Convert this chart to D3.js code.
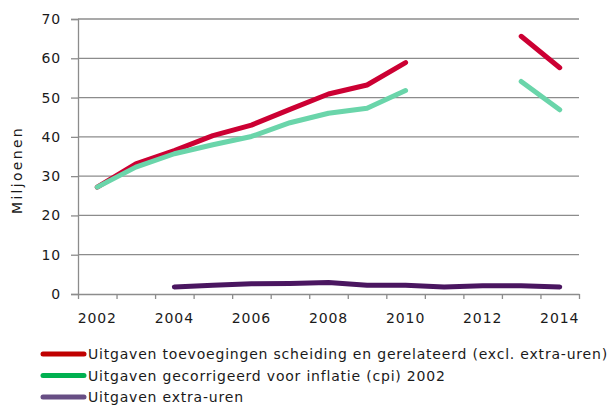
<!DOCTYPE html>
<html>
<head>
<meta charset="utf-8">
<script src="https://cdn.jsdelivr.net/npm/d3@7"></script>
<style>
  body { margin: 0; background: #fff; }
  svg { font-family: "DejaVu Sans", Verdana, sans-serif; }
</style>
</head>
<body>
<div id="chart"></div>
<script>
// data
const years = [2002, 2003, 2004, 2005, 2006, 2007, 2008, 2009, 2010, 2011, 2012, 2013, 2014];
const uitgaven = [27.2, 33.1, 36.5, 40.3, 43.0, 47.0, 50.9, 53.2, 58.9, null, null, 65.6, 57.6];
const gecorrigeerd = [27.2, 32.3, 35.7, 38.0, 40.1, 43.6, 46.0, 47.3, 51.8, null, null, 54.1, 46.9];
const extraUren = [null, null, 1.8, 2.2, 2.6, 2.7, 2.95, 2.2, 2.2, 1.8, 2.1, 2.1, 1.8];
const yTicks = [0, 10, 20, 30, 40, 50, 60, 70];

const series = [
    { name: "Uitgaven toevoegingen scheiding en gerelateerd (excl. extra-uren)", values: uitgaven, line: "#cc0033", legend: "#c00000" },
    { name: "Uitgaven gecorrigeerd voor inflatie (cpi) 2002", values: gecorrigeerd, line: "#6ad5aa", legend: "#00b050" },
    { name: "Uitgaven extra-uren", values: extraUren, line: "#4a1660", legend: "#674e84" }
];

const width = 611, height = 407;
const margin = { left: 78, right: 579, top: 19, bottom: 294 };

const svg = d3.select("#chart")
    .append("svg")
    .attr("width", width)
    .attr("height", height);

const x = d3.scaleBand()
    .domain(years)
    .range([margin.left, margin.right]);

const y = d3.scaleLinear()
    .domain([0, 70])
    .range([margin.bottom, margin.top]);

// gridlines
svg.append("g")
    .selectAll("line")
    .data(yTicks.filter(d => d > 0))
    .join("line")
    .attr("x1", margin.left)
    .attr("x2", margin.right)
    .attr("y1", d => y(d))
    .attr("y2", d => y(d))
    .attr("stroke", "#8c8c8c")
    .attr("stroke-width", 1.3);

// Y axis
const yAxis = svg.append("g")
    .attr("transform", `translate(${margin.left},0)`)
    .call(d3.axisLeft(y).tickValues(yTicks).tickSize(7).tickPadding(10));
yAxis.select(".domain").attr("stroke", "#8c8c8c").attr("stroke-width", 1.3);
yAxis.selectAll(".tick line").attr("stroke", "#8c8c8c").attr("stroke-width", 1.3);
yAxis.selectAll("text").attr("font-size", 14).attr("fill", "#1a1a1a")
    .attr("letter-spacing", 0.9)
    .attr("font-family", "DejaVu Sans, sans-serif");

// X axis: ticks on band boundaries
const xEdge = d3.scaleLinear()
    .domain([0, years.length])
    .range([margin.left, margin.right]);
const xTicks = svg.append("g")
    .attr("transform", `translate(0,${margin.bottom})`)
    .call(d3.axisBottom(xEdge).tickValues(d3.range(years.length + 1)).tickSize(5).tickSizeOuter(0).tickFormat(""));
xTicks.select(".domain").attr("stroke", "#8c8c8c").attr("stroke-width", 1.3);
xTicks.selectAll(".tick line").attr("stroke", "#8c8c8c").attr("stroke-width", 1.3);

// X labels at band centres, every other year
const xLabels = svg.append("g")
    .attr("transform", `translate(0,${margin.bottom})`)
    .call(d3.axisBottom(x).tickSize(0).tickPadding(19).tickFormat(d => d % 2 === 0 ? d : ""));
xLabels.select(".domain").remove();
xLabels.selectAll("text").attr("font-size", 14).attr("fill", "#1a1a1a")
    .attr("letter-spacing", 0.9)
    .attr("font-family", "DejaVu Sans, sans-serif");

// y label
svg.append("text")
    .attr("transform", "translate(22,170) rotate(-90)")
    .attr("text-anchor", "middle")
    .attr("font-size", 14)
    .attr("letter-spacing", 2.3)
    .attr("fill", "#1a1a1a")
    .text("Miljoenen");

// lines
const line = d3.line()
    .defined(d => d.v != null)
    .x(d => x(d.year) + x.bandwidth() / 2)
    .y(d => y(d.v));

svg.append("g")
    .selectAll("path")
    .data(series)
    .join("path")
    .attr("d", s => line(years.map((yr, i) => ({ year: yr, v: s.values[i] }))))
    .attr("fill", "none")
    .attr("stroke", s => s.line)
    .attr("stroke-width", 5)
    .attr("stroke-linecap", "round")
    .attr("stroke-linejoin", "round");

// legend
const legend = svg.append("g")
    .selectAll("g")
    .data(series)
    .join("g")
    .attr("transform", (d, i) => `translate(0,${354 + i * 21.5})`);
legend.append("line")
    .attr("x1", 43)
    .attr("x2", 84)
    .attr("stroke", d => d.legend)
    .attr("stroke-width", 5)
    .attr("stroke-linecap", "round");
legend.append("text")
    .attr("x", 88)
    .attr("y", 5)
    .attr("font-size", 14)
    .attr("letter-spacing", 0.8)
    .attr("fill", "#1a1a1a")
    .text(d => d.name);
</script>
</body>
</html>
